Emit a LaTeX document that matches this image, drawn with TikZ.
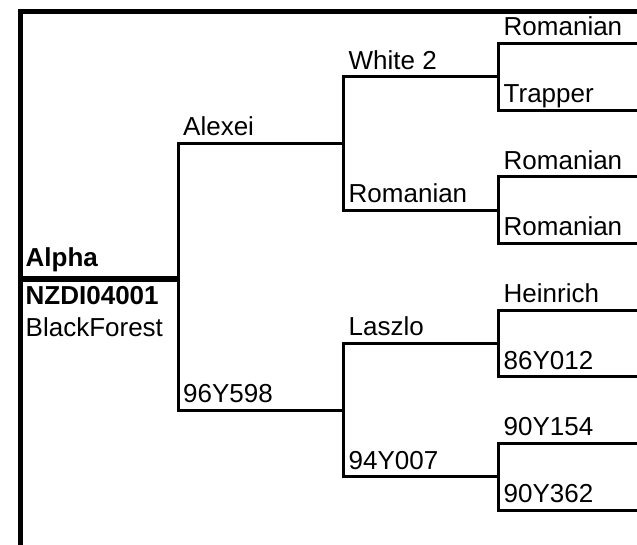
\documentclass[tikz,border=0pt]{standalone}
\usepackage{fontspec}
\setmainfont{Liberation Sans}
\usetikzlibrary{positioning,calc}

\begin{document}
\begin{tikzpicture}[x=1pt,y=-1pt,
  branch/.style={line width=3pt},
  lbl/.style={anchor=base west,inner sep=0pt,font=\fontsize{26}{30}\selectfont}]
\useasboundingbox (0,0) rectangle (637,544);
% frame
\draw[line width=5pt] (20,548) -- (20,11.3) -- (645,11.3);
% starting points of the lines
\coordinate (alpha) at (20,279);
\coordinate (alexei) at (178,143.3);
\coordinate (n96y598) at (178,410);
\coordinate (white) at (343,76.7);
\coordinate (romA) at (343,210);
\coordinate (laszlo) at (343,343.3);
\coordinate (n94y007) at (343,476.7);
\coordinate (romB) at (498,43.3);
\coordinate (trapper) at (498,110);
\coordinate (romC) at (498,176.7);
\coordinate (romD) at (498,243.3);
\coordinate (heinrich) at (498,310);
\coordinate (n86y012) at (498,376.7);
\coordinate (n90y154) at (498,443.3);
\coordinate (n90y362) at (498,510);
\coordinate (rim) at (645,0);
% branches
\draw[line width=5.8pt] (alpha) -- (alpha -| alexei);
\draw[branch] (alexei -| white) -- (alexei) -- (n96y598) -- (n96y598 -| laszlo);
\draw[branch] (white -| romB) -- (white) -- (romA) -- (romA -| romC);
\draw[branch] (laszlo -| heinrich) -- (laszlo) -- (n94y007) -- (n94y007 -| n90y154);
\draw[branch] (romB -| rim) -- (romB) -- (trapper) -- (trapper -| rim);
\draw[branch] (romC -| rim) -- (romC) -- (romD) -- (romD -| rim);
\draw[branch] (heinrich -| rim) -- (heinrich) -- (n86y012) -- (n86y012 -| rim);
\draw[branch] (n90y154 -| rim) -- (n90y154) -- (n90y362) -- (n90y362 -| rim);
% names
\node[lbl] (t-alpha) at ([xshift=5.5pt,yshift=12.3pt]alpha) {\textbf{Alpha}};
\node[lbl] (t-reg) at ([xshift=5.5pt,yshift=-25pt]alpha) {\textbf{NZDI04001}};
\node[lbl] (t-breed) at ([xshift=5.5pt,yshift=-57pt]alpha) {BlackForest};
\node[lbl] (t-alexei) at ([xshift=5pt,yshift=7.5pt]alexei) {Alexei};
\node[lbl] (t-96y598) at ([xshift=5pt,yshift=7.5pt]n96y598) {96Y598};
\node[lbl] (t-white) at ([xshift=5.5pt,yshift=7.5pt]white) {White 2};
\node[lbl] (t-romA) at ([xshift=5.5pt,yshift=7.5pt]romA) {Romanian};
\node[lbl] (t-laszlo) at ([xshift=5.5pt,yshift=7.5pt]laszlo) {Laszlo};
\node[lbl] (t-94y007) at ([xshift=5.5pt,yshift=7.5pt]n94y007) {94Y007};
\node[lbl] (t-romB) at ([xshift=5.5pt,yshift=7.5pt]romB) {Romanian};
\node[lbl] (t-trapper) at ([xshift=5.5pt,yshift=7.5pt]trapper) {Trapper};
\node[lbl] (t-romC) at ([xshift=5.5pt,yshift=7.5pt]romC) {Romanian};
\node[lbl] (t-romD) at ([xshift=5.5pt,yshift=7.5pt]romD) {Romanian};
\node[lbl] (t-heinrich) at ([xshift=5.5pt,yshift=7.5pt]heinrich) {Heinrich};
\node[lbl] (t-86y012) at ([xshift=5.5pt,yshift=7.5pt]n86y012) {86Y012};
\node[lbl] (t-90y154) at ([xshift=5.5pt,yshift=7.5pt]n90y154) {90Y154};
\node[lbl] (t-90y362) at ([xshift=5.5pt,yshift=7.5pt]n90y362) {90Y362};
\end{tikzpicture}
\end{document}
